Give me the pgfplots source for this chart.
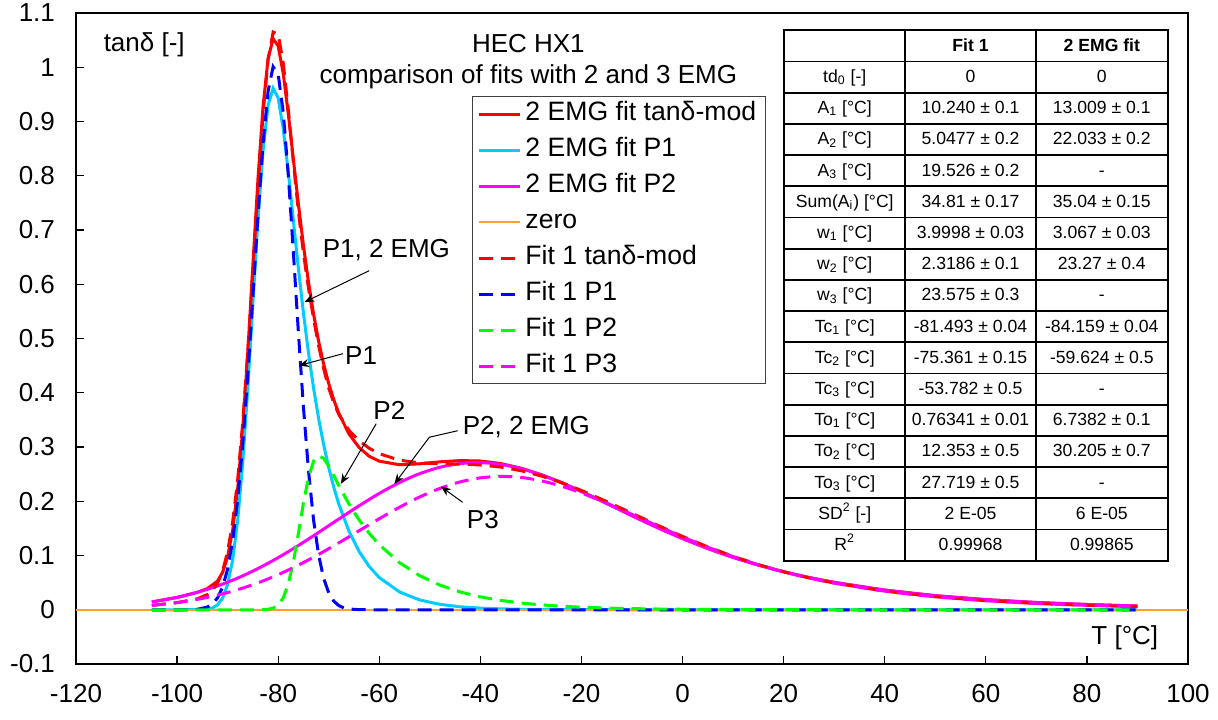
\documentclass[border=0pt]{standalone}
\usepackage{pgfplots}
\pgfplotsset{compat=1.18}
\usepackage{array}
\usepackage{fontspec}
\setmainfont{Liberation Sans}
\usetikzlibrary{arrows.meta}
\definecolor{cRed}{RGB}{255,0,0}
\definecolor{cCyan}{RGB}{0,204,255}
\definecolor{cMag}{RGB}{255,0,255}
\definecolor{cOra}{RGB}{250,160,50}
\definecolor{cBlue}{RGB}{0,0,255}
\definecolor{cGreen}{RGB}{0,255,0}
\newcommand\RS{\rule[-4.7pt]{0pt}{14.7pt}}
\begin{document}
\begin{tikzpicture}
\useasboundingbox (-38pt,-27.5pt) rectangle (571pt,332pt);
\begin{axis}[
  scale only axis, width=556pt, height=325.5pt,
  xmin=-120, xmax=100, ymin=-0.1, ymax=1.1,
  xtick={-120,-100,...,100},
  ytick={-0.1,0,0.1,0.2,0.3,0.4,0.5,0.6,0.7,0.8,0.9,1,1.1},
  yticklabels={-0.1,0,0.1,0.2,0.3,0.4,0.5,0.6,0.7,0.8,0.9,1,1.1},
  tick align=inside, tick pos=left,
  major tick length=4pt,
  every tick/.style={black, line width=0.6pt},
  axis line style={black, line width=0.9pt},
  /pgf/number format/assume math mode=true,
  ticklabel style={font=\fontsize{13}{13}\selectfont},
  xticklabel style={yshift=-6.5pt},
  yticklabel style={xshift=-7pt},
  clip mode=individual,
  legend image code/.code={\draw[#1] (0pt,0pt) -- (20.5pt,0pt);},
  legend cell align=left,
  legend style={at={(rel axis cs:0.3561,0.8725)}, anchor=north west,
    draw=black!75, line width=0.5pt, fill=white,
    font=\fontsize{13.3}{13.3}\selectfont,
    inner xsep=2.5pt, inner ysep=2.5pt, row sep=5.5pt,
    nodes={inner xsep=2pt, inner ysep=0pt, text height=9.6pt, text depth=2.9pt}},
  every axis plot/.append style={line width=1.5pt},
]
% 2 EMG fit tand-mod
\addplot[cRed] coordinates {(-105,0.0144) (-100,0.0228) (-96,0.0322) (-94,0.0391) (-92,0.0528) (-91,0.0689) (-90,0.0978) (-89,0.1470) (-88,0.2247) (-87,0.3358) (-86,0.4771) (-85,0.6366) (-84,0.7940) (-83,0.9270) (-82,1.0160) (-81,1.0525) (-80,1.0391) (-79,0.9883) (-78,0.9142) (-77,0.8307) (-76,0.7477) (-75,0.6713) (-74,0.6037) (-73,0.5451) (-72,0.4950) (-71,0.4527) (-70,0.4169) (-69,0.3869) (-68,0.3619) (-66,0.3242) (-64,0.2991) (-62,0.2830) (-60,0.2739) (-56,0.2673) (-52,0.2690) (-48,0.2727) (-44,0.2750) (-40,0.2742) (-36,0.2696) (-32,0.2611) (-28,0.2492) (-24,0.2347) (-20,0.2181) (-15,0.1960) (-10,0.1734) (-5,0.1516) (0,0.1313) (5,0.1129) (10,0.0966) (15,0.0824) (20,0.0700) (25,0.0595) (30,0.0505) (40,0.0363) (50,0.0260) (60,0.0187) (70,0.0134) (80,0.0097) (90,0.0069)};
\addlegendentry{2 EMG fit tanδ-mod}
% 2 EMG fit P1
\addplot[cCyan] coordinates {(-105,0) (-100,0) (-96,0.0001) (-94,0.0011) (-93,0.0034) (-92,0.0089) (-91,0.0214) (-90,0.0466) (-89,0.0922) (-88,0.1662) (-87,0.2729) (-86,0.4098) (-85,0.5650) (-84,0.7180) (-83,0.8460) (-82,0.9300) (-81,0.9614) (-80,0.9430) (-79,0.8866) (-78,0.8069) (-77,0.7178) (-76,0.6292) (-75,0.5468) (-74,0.4731) (-73,0.4085) (-72,0.3524) (-71,0.3039) (-70,0.2619) (-69,0.2258) (-68,0.1946) (-66,0.1447) (-64,0.1075) (-62,0.0799) (-60,0.0594) (-56,0.0328) (-52,0.0181) (-48,0.0100) (-44,0.0055) (-40,0.0030) (-36,0.0017) (-32,0.0009) (-28,0.0005) (-24,0.0003) (-20,0.0002) (-10,0) (90,0)};
\addlegendentry{2 EMG fit P1}
% 2 EMG fit P2
\addplot[cMag, smooth] coordinates {(-105,0.0144) (-100,0.0228) (-96,0.0321) (-92,0.0439) (-88,0.0585) (-84,0.0760) (-80,0.0961) (-76,0.1185) (-72,0.1426) (-68,0.1673) (-64,0.1916) (-60,0.2145) (-56,0.2345) (-52,0.2509) (-48,0.2627) (-44,0.2695) (-40,0.2712) (-36,0.2679) (-32,0.2602) (-28,0.2487) (-24,0.2344) (-20,0.2179) (-15,0.1959) (-10,0.1734) (-5,0.1516) (0,0.1313) (5,0.1129) (10,0.0966) (15,0.0824) (20,0.0700) (25,0.0595) (30,0.0505) (40,0.0363) (50,0.0260) (60,0.0187) (70,0.0134) (80,0.0097) (90,0.0069)};
\addlegendentry{2 EMG fit P2}
% zero
\addplot[cOra, line width=0.8pt] coordinates {(-120,0) (100,0)};
\addlegendentry{zero}
% Fit 1 tand-mod
\addplot[cRed, dash pattern=on 7pt off 4pt] coordinates {(-105,0.0080) (-100,0.0132) (-96,0.0201) (-94,0.0281) (-93,0.0357) (-92,0.0488) (-91,0.0713) (-90,0.1073) (-89,0.1622) (-88,0.2410) (-87,0.3468) (-86,0.4776) (-85,0.6255) (-84,0.7764) (-83,0.9125) (-82,1.0137) (-81,1.0649) (-80,1.0607) (-79,1.0078) (-78,0.9225) (-77,0.8256) (-76,0.7343) (-75,0.6568) (-74,0.5924) (-73,0.5364) (-72,0.4868) (-71,0.4442) (-70,0.4088) (-69,0.3811) (-68,0.3599) (-66,0.3308) (-64,0.3116) (-62,0.2977) (-60,0.2877) (-56,0.2757) (-52,0.2707) (-48,0.2691) (-44,0.2685) (-40,0.2669) (-36,0.2631) (-32,0.2564) (-28,0.2468) (-24,0.2345) (-20,0.2199) (-15,0.1994) (-10,0.1778) (-5,0.1561) (0,0.1352) (5,0.1159) (10,0.0985) (15,0.0832) (20,0.0700) (25,0.0587) (30,0.0492) (40,0.0343) (50,0.0239) (60,0.0167) (70,0.0116) (80,0.0081) (90,0.0057)};
\addlegendentry{Fit 1 tanδ-mod}
% Fit 1 P1
\addplot[cBlue, dash pattern=on 7pt off 4pt] coordinates {(-105,0) (-98,0) (-96,0.0009) (-94,0.0050) (-93,0.0107) (-92,0.0218) (-91,0.0417) (-90,0.0752) (-89,0.1276) (-88,0.2039) (-87,0.3066) (-86,0.4342) (-85,0.5790) (-84,0.7268) (-83,0.8589) (-82,0.9557) (-81,1.0011) (-80,0.9873) (-79,0.9167) (-78,0.8014) (-77,0.6596) (-76,0.5111) (-75,0.3728) (-74,0.2561) (-73,0.1655) (-72,0.1008) (-71,0.0578) (-70,0.0312) (-69,0.0158) (-68,0.0076) (-67,0.0034) (-66,0.0014) (-64,0.0002) (-62,0) (90,0)};
\addlegendentry{Fit 1 P1}
% Fit 1 P2
\addplot[cGreen, dash pattern=on 7pt off 4pt] coordinates {(-105,0) (-84,0) (-83,0.0002) (-82,0.0008) (-81,0.0029) (-80,0.0087) (-79,0.0220) (-78,0.0476) (-77,0.0881) (-76,0.1409) (-75,0.1968) (-74,0.2441) (-73,0.2738) (-72,0.2840) (-71,0.2790) (-70,0.2649) (-69,0.2472) (-68,0.2289) (-66,0.1949) (-64,0.1658) (-62,0.1410) (-60,0.1199) (-56,0.0868) (-52,0.0628) (-48,0.0454) (-44,0.0328) (-40,0.0238) (-36,0.0172) (-32,0.0124) (-28,0.0090) (-24,0.0065) (-20,0.0047) (-15,0.0031) (-10,0.0021) (-5,0.0014) (0,0.0009) (10,0.0004) (20,0.0002) (30,0) (90,0)};
\addlegendentry{Fit 1 P2}
% Fit 1 P3
\addplot[cMag, smooth, dash pattern=on 7pt off 4pt] coordinates {(-105,0.0080) (-100,0.0132) (-96,0.0192) (-92,0.0270) (-88,0.0371) (-84,0.0496) (-80,0.0647) (-76,0.0823) (-72,0.1020) (-68,0.1234) (-64,0.1456) (-60,0.1678) (-56,0.1889) (-52,0.2079) (-48,0.2237) (-44,0.2357) (-40,0.2431) (-36,0.2459) (-32,0.2440) (-28,0.2378) (-24,0.2280) (-20,0.2152) (-15,0.1963) (-10,0.1757) (-5,0.1547) (0,0.1343) (5,0.1153) (10,0.0981) (15,0.0829) (20,0.0698) (25,0.0586) (30,0.0491) (40,0.0343) (50,0.0239) (60,0.0167) (70,0.0116) (80,0.0081) (90,0.0057)};
\addlegendentry{Fit 1 P3}

% axis labels and title
\node[font=\fontsize{13}{13}\selectfont] at (axis cs:-106.5,1.041) {tanδ [-]};
\node[font=\fontsize{13}{13}\selectfont] at (axis cs:87.5,-0.052) {T [°C]};
\node[font=\fontsize{13}{15.5}\selectfont, align=center] at (axis cs:-30.5,1.0107) {HEC HX1\\comparison of fits with 2 and 3 EMG};

% annotations
\begin{scope}[font=\fontsize{13}{13}\selectfont]
\node at (axis cs:-58.6,0.663) {P1, 2 EMG};
\node at (axis cs:-63.6,0.469) {P1};
\node at (axis cs:-58.0,0.367) {P2};
\node at (axis cs:-30.9,0.337) {P2, 2 EMG};
\node at (axis cs:-39.5,0.167) {P3};
\end{scope}
\begin{scope}[black, line width=0.5pt, -{Stealth[length=5pt,width=4pt]}]
\draw (axis cs:-62.0,0.625) -- (axis cs:-74.8,0.567);
\draw (axis cs:-67.2,0.472) -- (axis cs:-75.9,0.450);
\draw (axis cs:-60.6,0.343) -- (axis cs:-67.6,0.232);
\draw (axis cs:-44.5,0.330) -- (axis cs:-50.1,0.318) -- (axis cs:-57.0,0.232);
\draw (axis cs:-43.5,0.198) -- (axis cs:-47.8,0.227);
\end{scope}

% parameter table
\node[anchor=north west, inner sep=0pt, font=\fontsize{8.8}{10}\selectfont] at (rel axis cs:0.6358,0.9754) {%
\setlength\arrayrulewidth{0.9pt}\setlength\tabcolsep{0pt}%
\begin{tabular}{|>{\centering\arraybackslash}p{59.5pt}|>{\centering\arraybackslash}p{64.5pt}|>{\centering\arraybackslash}p{65pt}|}
\hline
\RS & \textbf{Fit 1} & \textbf{2 EMG fit}\\ \hline
\RS td\textsubscript{0} [-] & 0 & 0\\ \hline
\RS A\textsubscript{1} [°C] & 10.240 ± 0.1 & 13.009 ± 0.1\\ \hline
\RS A\textsubscript{2} [°C] & 5.0477 ± 0.2 & 22.033 ± 0.2\\ \hline
\RS A\textsubscript{3} [°C] & 19.526 ± 0.2 & -\\ \hline
\RS Sum(A\textsubscript{i}) [°C] & 34.81 ± 0.17 & 35.04 ± 0.15\\ \hline
\RS w\textsubscript{1} [°C] & 3.9998 ± 0.03 & 3.067 ± 0.03\\ \hline
\RS w\textsubscript{2} [°C] & 2.3186 ± 0.1 & 23.27 ± 0.4\\ \hline
\RS w\textsubscript{3} [°C] & 23.575 ± 0.3 & -\\ \hline
\RS Tc\textsubscript{1} [°C] & -81.493 ± 0.04 & -84.159 ± 0.04\\ \hline
\RS Tc\textsubscript{2} [°C] & -75.361 ± 0.15 & -59.624 ± 0.5\\ \hline
\RS Tc\textsubscript{3} [°C] & -53.782 ± 0.5 & -\\ \hline
\RS To\textsubscript{1} [°C] & 0.76341 ± 0.01 & 6.7382 ± 0.1\\ \hline
\RS To\textsubscript{2} [°C] & 12.353 ± 0.5 & 30.205 ± 0.7\\ \hline
\RS To\textsubscript{3} [°C] & 27.719 ± 0.5 & -\\ \hline
\RS SD\textsuperscript{2} [-] & 2 E-05 & 6 E-05\\ \hline
\RS R\textsuperscript{2} & 0.99968 & 0.99865\\ \hline
\end{tabular}};
\end{axis}
\end{tikzpicture}
\end{document}
